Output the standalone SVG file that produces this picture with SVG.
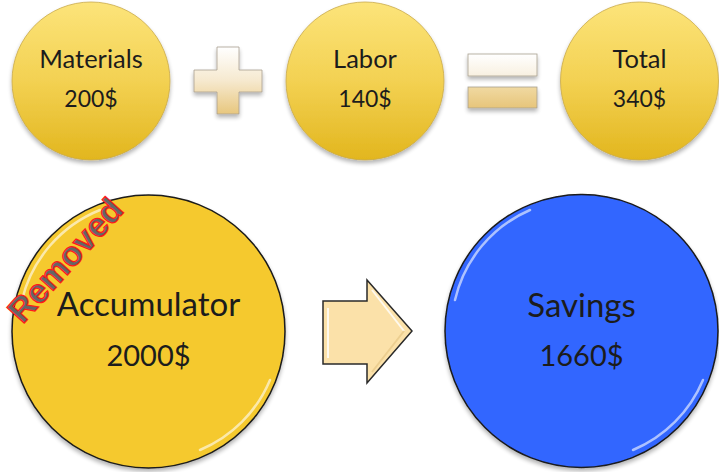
<svg xmlns="http://www.w3.org/2000/svg" width="719" height="472" viewBox="0 0 719 472">
<defs>
<linearGradient id="gold" x1="0" y1="0" x2="0" y2="1">
<stop offset="0" stop-color="#FCE47A"/>
<stop offset="0.5" stop-color="#F3D152"/>
<stop offset="1" stop-color="#E2B61E"/>
</linearGradient>
<linearGradient id="plus" x1="0" y1="0" x2="0" y2="1">
<stop offset="0" stop-color="#FFFFFF"/>
<stop offset="0.5" stop-color="#F6E9CF"/>
<stop offset="1" stop-color="#E8C77E"/>
</linearGradient>
<linearGradient id="eqtop" x1="0" y1="0" x2="0" y2="1">
<stop offset="0" stop-color="#FFFFFF"/>
<stop offset="1" stop-color="#F8F0E0"/>
</linearGradient>
<linearGradient id="eqbot" x1="0" y1="0" x2="0" y2="1">
<stop offset="0" stop-color="#F0D9A2"/>
<stop offset="1" stop-color="#E7C57A"/>
</linearGradient>
<filter id="sh" x="-20%" y="-20%" width="140%" height="150%">
<feGaussianBlur in="SourceAlpha" stdDeviation="2"/>
<feOffset dx="0" dy="3" result="b"/>
<feComponentTransfer><feFuncA type="linear" slope="0.3"/></feComponentTransfer>
<feMerge><feMergeNode/><feMergeNode in="SourceGraphic"/></feMerge>
</filter>
</defs>
<style>
.small{fill:url(#gold);stroke:#C9A94A;stroke-width:0.8}
.t{font-family:"Lato","Open Sans",sans-serif;fill:#1c1c1c;text-anchor:middle}
.s{font-size:25.5px}
.sn{font-size:23px}
.b{font-size:33px}
.bn{font-size:29px}
.big{stroke:#1a1a1a;stroke-width:1.5}
.gloss{fill:none;stroke:#FFFFFF;stroke-width:2.5;stroke-linecap:round;opacity:0.6}
.op{stroke:#A8A090;stroke-width:0.8}
</style>
<rect width="719" height="472" fill="#FFFFFF"/>

<g id="materials">
<circle class="small" cx="91" cy="81" r="79" filter="url(#sh)"/>
<text class="t s" x="91" y="68">Materials</text>
<text class="t sn" x="91" y="107">200$</text>
</g>

<g id="plus-sign">
<path class="op" fill="url(#plus)" filter="url(#sh)" d="M217,47 H239 V70 H262 V92 H239 V114 H217 V92 H194 V70 H217 Z"/>
</g>

<g id="labor">
<circle class="small" cx="365" cy="81" r="79" filter="url(#sh)"/>
<text class="t s" x="365" y="68">Labor</text>
<text class="t sn" x="365" y="107">140$</text>
</g>

<g id="equals-sign" filter="url(#sh)">
<rect class="op" x="468" y="54" width="69" height="22" fill="url(#eqtop)"/>
<rect class="op" x="468" y="87" width="69" height="21" fill="url(#eqbot)"/>
</g>

<g id="total">
<circle class="small" cx="639.5" cy="81" r="79" filter="url(#sh)"/>
<text class="t s" x="639.5" y="68">Total</text>
<text class="t sn" x="639.5" y="107">340$</text>
</g>

<g id="accumulator">
<circle class="big" cx="148.5" cy="331.5" r="136.5" fill="#F5C92E" filter="url(#sh)"/>
<path class="gloss" d="M22,300 A130,130 0 0 1 100,210"/>
<path class="gloss" d="M270,380 A130,130 0 0 1 200,450"/>
<text class="t b" x="148.5" y="316">Accumulator</text>
<text class="t bn" x="148.5" y="366">2000$</text>
</g>

<g id="removed-label">
<text x="0" y="0" transform="translate(74,268) rotate(-48)" font-family="Liberation Sans, Arial, sans-serif" font-weight="bold" font-size="34" fill="#666666" stroke="#FF1A1A" stroke-width="1.2" text-anchor="middle">Removed</text>
</g>

<g id="savings">
<circle class="big" cx="581.5" cy="331" r="136.5" fill="#3366FF" filter="url(#sh)"/>
<path class="gloss" d="M455,300 A130,130 0 0 1 530,210"/>
<path class="gloss" d="M703,380 A130,130 0 0 1 633,450"/>
<text class="t b" x="581.5" y="317">Savings</text>
<text class="t bn" x="581.5" y="366">1660$</text>
</g>

<g id="connectors">
<path d="M323,301 H367 V280 L412,331 L367,383 V364 H323 Z" fill="#FBE1A9" stroke="#2a2a2a" stroke-width="1.5" stroke-linejoin="miter"/>
<path d="M328,308 V358" stroke="#FFFFFF" stroke-width="2" opacity="0.8"/>
<path d="M372,290 L404,331" stroke="#FFFFFF" stroke-width="2" opacity="0.8" fill="none"/>
<path d="M404,331 L372,372" stroke="#E9C98A" stroke-width="2" opacity="0.8" fill="none"/>
</g>
</svg>
